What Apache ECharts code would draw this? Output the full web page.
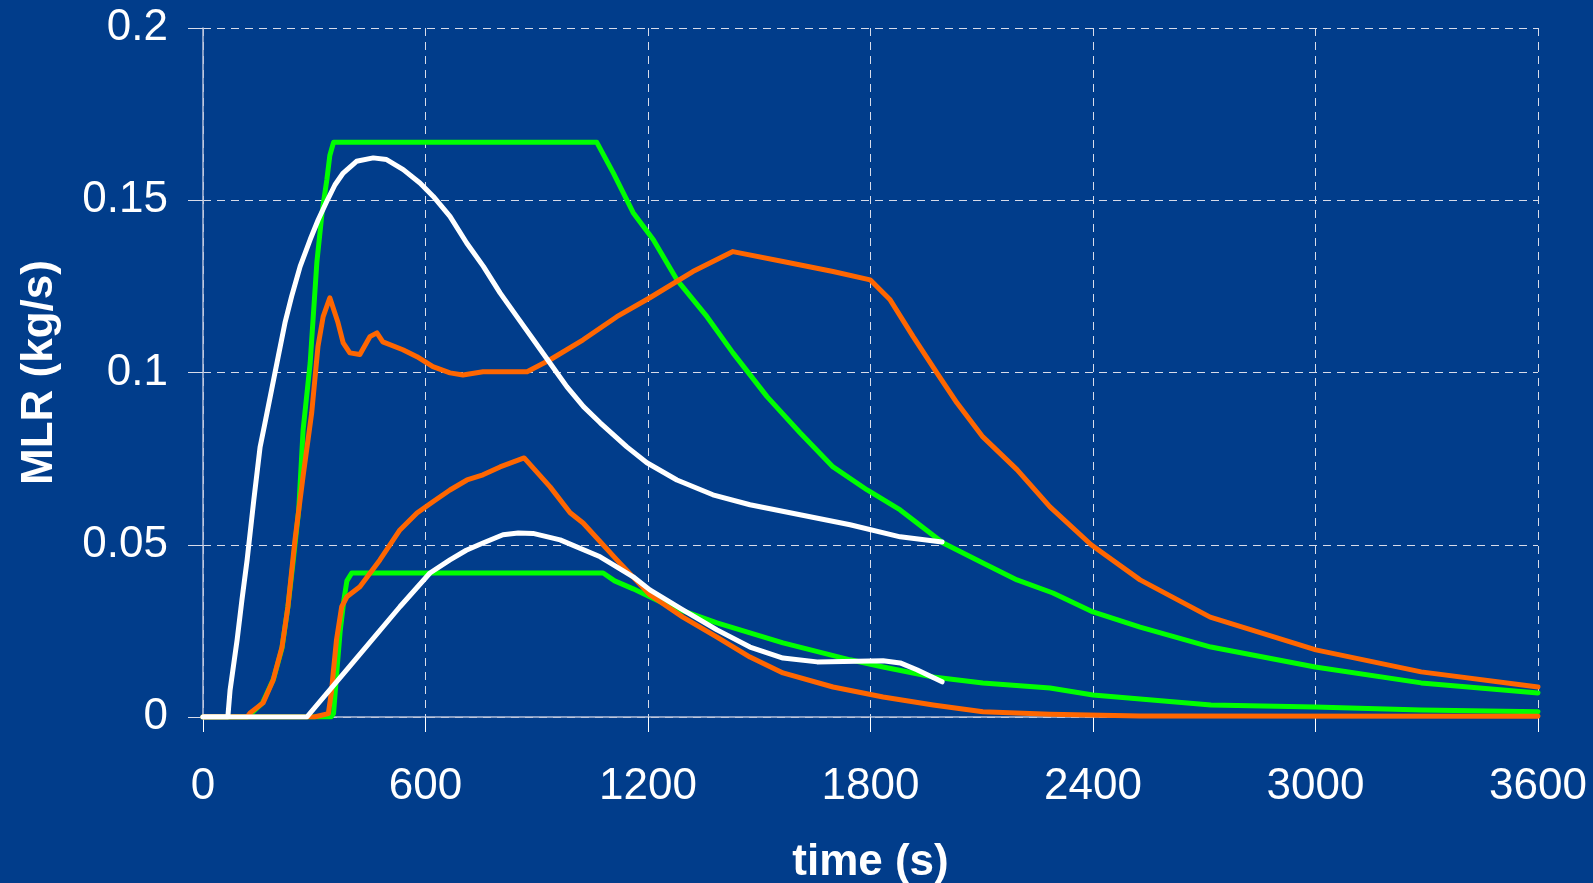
<!DOCTYPE html>
<html>
<head>
<meta charset="utf-8">
<script src="https://cdn.jsdelivr.net/npm/echarts@6/dist/echarts.min.js"></script>
<style>
html,body{margin:0;padding:0;background:#013d8b;}
#c{width:1593px;height:883px;}
</style>
</head>
<body>
<div id="c"></div>
<script>
// time ticks (s) and MLR ticks (kg/s)
var xTicks = [0, 600, 1200, 1800, 2400, 3000, 3600];
var yTicks = [0, 0.05, 0.1, 0.15, 0.2];

// Green curves (design fires)
var greenBig = [[0,0],[120,0],[160,0.004],[190,0.011],[213,0.02],[229,0.032],[243,0.045],[258,0.06],[270,0.0834],[289,0.1028],[307,0.1319],[321,0.1464],[334,0.156],[342,0.163],[352,0.1668],[1062,0.1668],[1106,0.158],[1160,0.1464],[1214,0.1386],[1278,0.1269],[1359,0.1162],[1429,0.1057],[1521,0.093],[1610,0.0825],[1699,0.0726],[1791,0.0659],[1880,0.0601],[1996,0.0505],[2103,0.0447],[2195,0.0398],[2292,0.036],[2400,0.0305],[2527,0.0261],[2718,0.0203],[2999,0.0145],[3285,0.0099],[3600,0.007]];
var greenSmall = [[0,0],[345,0],[352,0.001],[360,0.012],[370,0.025],[380,0.034],[388,0.0395],[401,0.0418],[1079,0.0418],[1110,0.0395],[1160,0.0372],[1251,0.0325],[1386,0.0273],[1564,0.0215],[1745,0.0166],[1834,0.0145],[1969,0.0116],[2103,0.0099],[2284,0.0084],[2400,0.0064],[2718,0.0035],[2999,0.0029],[3285,0.002],[3600,0.0015]];

// Orange curves
var orangeBig = [[0,0],[119,0],[127,0.0012],[162,0.0041],[189,0.0107],[213,0.0203],[229,0.032],[248,0.0514],[270,0.07],[293,0.0882],[310,0.1075],[324,0.1162],[342,0.1217],[364,0.1145],[378,0.1086],[396,0.1057],[423,0.1052],[450,0.1104],[469,0.1115],[485,0.1089],[539,0.1066],[577,0.1046],[620,0.1017],[666,0.0999],[701,0.0993],[755,0.1002],[874,0.1002],[936,0.1037],[1025,0.1095],[1116,0.1162],[1205,0.1217],[1321,0.1293],[1429,0.1351],[1564,0.1322],[1699,0.1293],[1799,0.1269],[1853,0.1211],[1915,0.1104],[1979,0.0999],[2033,0.0912],[2103,0.0813],[2195,0.0718],[2284,0.061],[2395,0.05],[2527,0.0398],[2716,0.029],[3001,0.0195],[3285,0.0131],[3600,0.0087]];
var orangeSmall = [[0,0],[300,0],[338,0.001],[347,0.0078],[351,0.0127],[360,0.0224],[374,0.032],[388,0.0349],[423,0.0378],[477,0.0456],[513,0.0514],[531,0.0543],[577,0.0592],[620,0.0625],[666,0.0659],[712,0.0688],[755,0.0703],[801,0.0726],[866,0.0752],[936,0.0668],[990,0.0593],[1025,0.0563],[1116,0.0456],[1205,0.0355],[1294,0.029],[1386,0.0232],[1475,0.0174],[1564,0.0128],[1699,0.0087],[1834,0.0058],[1969,0.0035],[2103,0.0015],[2284,0.0008],[2527,0.0003],[3600,0.0002]];

// White curves
var whiteBig = [[0,0],[67,0],[73,0.0078],[92,0.0224],[105,0.034],[119,0.0456],[137,0.063],[154,0.0784],[167,0.0853],[185,0.095],[203,0.1047],[221,0.1144],[239,0.1221],[262,0.1308],[289,0.1386],[311,0.1444],[334,0.1497],[356,0.1545],[378,0.1579],[414,0.1613],[459,0.1623],[495,0.1618],[540,0.1589],[585,0.155],[621,0.1511],[666,0.1453],[711,0.1376],[756,0.1308],[801,0.1231],[846,0.1163],[891,0.1095],[936,0.1027],[981,0.0959],[1026,0.0901],[1071,0.0854],[1143,0.0784],[1197,0.0738],[1278,0.0688],[1375,0.0645],[1475,0.0616],[1610,0.0587],[1745,0.0558],[1880,0.0523],[1993,0.0508]];
var whiteSmall = [[0,0],[280,0],[400,0.0153],[531,0.032],[612,0.0418],[666,0.0456],[710,0.0484],[755,0.0505],[809,0.0529],[850,0.0534],[890,0.0533],[963,0.0514],[1071,0.0465],[1160,0.0407],[1205,0.0369],[1294,0.0311],[1386,0.0253],[1475,0.0203],[1564,0.0171],[1656,0.016],[1834,0.0163],[1880,0.0157],[1925,0.0137],[1993,0.0102]];

var FONT = "'Liberation Sans', Arial, sans-serif";
function line(data, color) {
  return {
    type: 'line', data: data, showSymbol: false, symbol: 'none', smooth: false,
    lineStyle: { color: color, width: 5, cap: 'round', join: 'round' },
    silent: true, animation: false
  };
}

var chart = echarts.init(document.getElementById('c'), null, { renderer: 'canvas' });
chart.setOption({
  backgroundColor: '#013d8b',
  animation: false,
  grid: { left: 203, right: 55, top: 28, bottom: 166, containLabel: false, outerBoundsMode: 'none' },
  xAxis: {
    type: 'value', min: xTicks[0], max: xTicks[xTicks.length - 1], interval: 600,
    name: 'time (s)', nameLocation: 'middle', nameGap: 124,
    nameTextStyle: { color: '#ffffff', fontSize: 44, fontWeight: 'bold', fontFamily: FONT },
    axisLine: { show: true, lineStyle: { color: '#b4bfd8', width: 1.5 } },
    axisTick: { show: true, inside: false, length: 15, lineStyle: { color: '#ffffff', width: 1 } },
    axisLabel: { color: '#ffffff', fontSize: 44, fontFamily: FONT, margin: 48,
      formatter: function (v) { return String(v); } },
    splitLine: { show: true, lineStyle: { color: '#d8dcea', width: 1, type: [8, 6] } }
  },
  yAxis: {
    type: 'value', min: yTicks[0], max: yTicks[yTicks.length - 1], interval: 0.05,
    name: 'MLR (kg/s)', nameLocation: 'middle', nameGap: 141, nameRotate: 90,
    nameTextStyle: { color: '#ffffff', fontSize: 44, fontWeight: 'bold', fontFamily: FONT },
    axisLine: { show: true, lineStyle: { color: '#b4bfd8', width: 1.5 } },
    axisTick: { show: true, inside: false, length: 15, lineStyle: { color: '#d8dcea', width: 1 } },
    axisLabel: { color: '#ffffff', fontSize: 44, fontFamily: FONT, margin: 35,
      formatter: function (v) { return String(+v.toFixed(2)); } },
    splitLine: { show: true, lineStyle: { color: '#d8dcea', width: 1, type: [8, 6] } }
  },
  series: [
    line(greenBig, '#00ff00'),
    line(greenSmall, '#00ff00'),
    line(orangeBig, '#ff6600'),
    line(orangeSmall, '#ff6600'),
    line(whiteBig, '#ffffff'),
    line(whiteSmall, '#ffffff')
  ]
});
</script>
</body>
</html>
